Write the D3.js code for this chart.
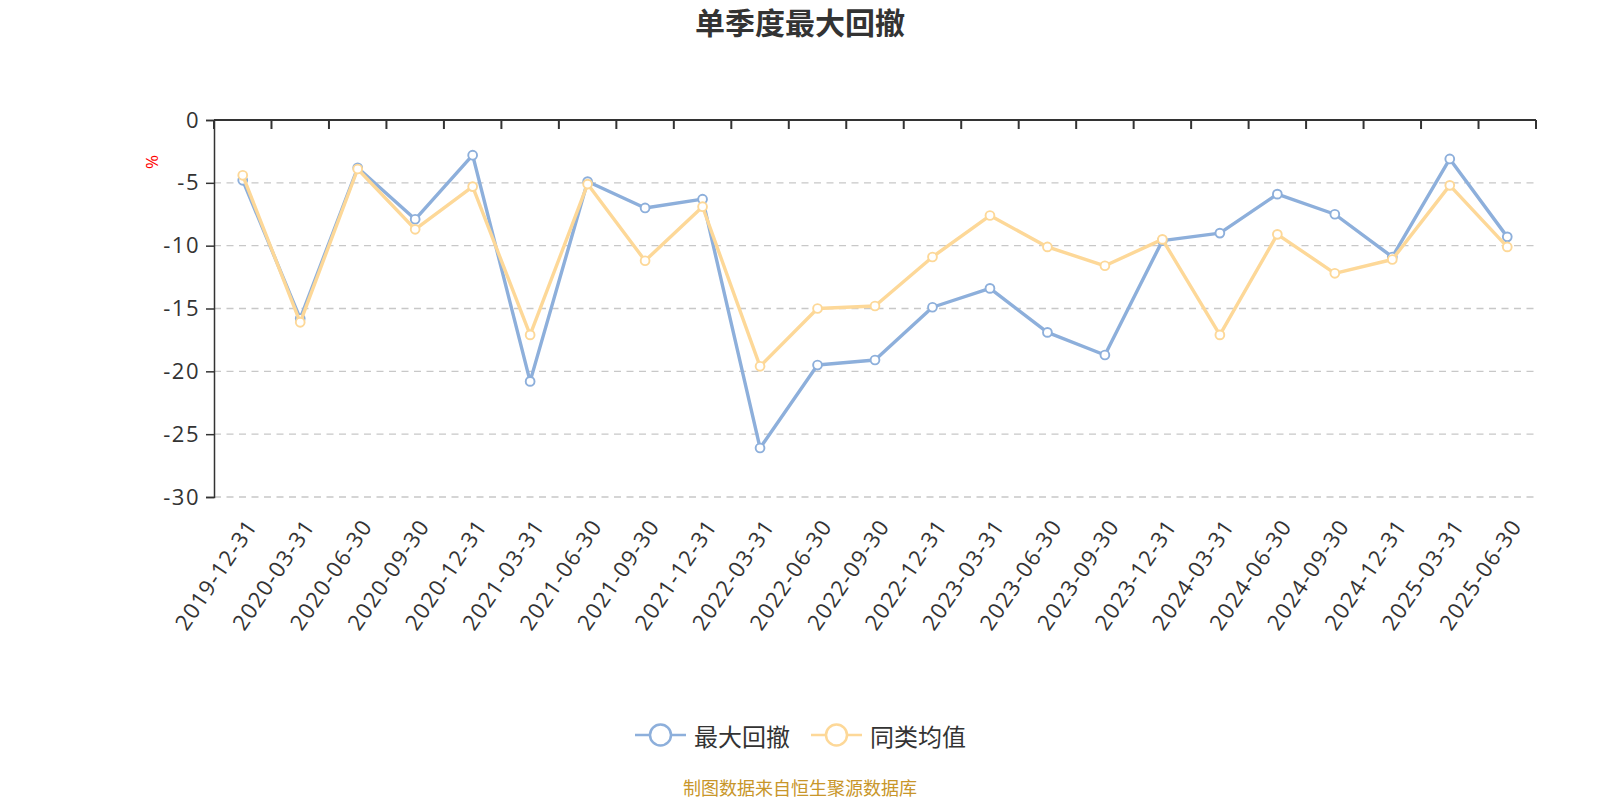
<!DOCTYPE html>
<html><head><meta charset="utf-8">
<script src="https://cdn.jsdelivr.net/npm/d3@7/dist/d3.min.js"></script>
<style>body{margin:0;background:#fff;}svg{display:block;}</style>
</head><body>
<svg id="c" width="1600" height="800"></svg>
<script>
const categories = ["2019-12-31","2020-03-31","2020-06-30","2020-09-30","2020-12-31","2021-03-31","2021-06-30","2021-09-30","2021-12-31","2022-03-31","2022-06-30","2022-09-30","2022-12-31","2023-03-31","2023-06-30","2023-09-30","2023-12-31","2024-03-31","2024-06-30","2024-09-30","2024-12-31","2025-03-31","2025-06-30"];
const maxDrawdown = [-4.8,-15.8,-3.8,-7.9,-2.8,-20.8,-4.9,-7.0,-6.3,-26.1,-19.5,-19.1,-14.9,-13.4,-16.9,-18.7,-9.6,-9.0,-5.9,-7.5,-10.9,-3.1,-9.3];
const peerAvg = [-4.4,-16.1,-3.9,-8.7,-5.3,-17.1,-5.1,-11.2,-6.9,-19.6,-15.0,-14.8,-10.9,-7.6,-10.1,-11.6,-9.5,-17.1,-9.1,-12.2,-11.1,-5.2,-10.1];
const yTicks = [0,-5,-10,-15,-20,-25,-30];
const seriesNames = ["最大回撤","同类均值"];
const colors = ["#8DAFDB","#FDD898"];

const cjk = "'Microsoft YaHei','Noto Sans CJK SC','Noto Sans',sans-serif";
const latin = "'Open Sans','Noto Sans CJK SC',sans-serif";
const svg = d3.select("#c").style("font-family", cjk);
const L = 214, R = 1536, T = 120, B = 497;
const x = d3.scaleBand().domain(categories).range([L, R]);
const y = d3.scaleLinear().domain([-30, 0]).range([B, T]);
const cx = c => x(c) + x.bandwidth() / 2;

// title
svg.append("text").attr("x", 800).attr("y", 34).attr("text-anchor","middle")
  .attr("font-size", 30).attr("font-weight","bold").attr("fill","#333").text("单季度最大回撤");

// grid
svg.append("g").selectAll("line").data(yTicks.filter(d=>d!==0)).join("line")
  .attr("x1", L).attr("x2", R).attr("y1", d=>y(d)).attr("y2", d=>y(d))
  .attr("stroke","#c8c8c8").attr("stroke-width",1.3).attr("stroke-dasharray","7,5.5");

// y axis
const yAxis = d3.axisLeft(y).tickValues(yTicks).tickSize(8).tickPadding(6).tickFormat(d=>String(d));
const gy = svg.append("g").attr("transform",`translate(${L},0)`).call(yAxis);
gy.select(".domain").attr("stroke","#333").attr("stroke-width",1.5);
gy.selectAll(".tick line").attr("stroke","#333").attr("stroke-width",1.5);
gy.selectAll(".tick text").attr("font-size",22).attr("fill","#333").attr("font-family",latin)
  .attr("letter-spacing","1.5px");

// unit
svg.append("text").attr("transform","translate(151,162) rotate(-90)")
  .attr("text-anchor","middle").attr("dominant-baseline","central")
  .attr("font-size",17).attr("fill","red").attr("font-family",latin).text("%");

// x axis line at zero (top)
svg.append("line").attr("x1",L).attr("x2",R).attr("y1",y(0)).attr("y2",y(0))
  .attr("stroke","#333").attr("stroke-width",2);
const bounds = categories.map(c=>x(c)).concat([R]);
svg.append("g").selectAll("line").data(bounds).join("line")
  .attr("x1",d=>d).attr("x2",d=>d).attr("y1",y(0)).attr("y2",y(0)+9)
  .attr("stroke","#333").attr("stroke-width",2);

// x labels at bottom
svg.append("g").selectAll("text").data(categories).join("text")
  .attr("transform", d=>`translate(${cx(d)+8},${B+24}) rotate(-56)`)
  .attr("text-anchor","end").attr("dominant-baseline","central")
  .attr("font-size",22).attr("letter-spacing","1.3px").attr("fill","#333").attr("font-family",latin).text(d=>d);

// lines
const data = [maxDrawdown, peerAvg];
const line = d3.line().x((d,i)=>cx(categories[i])).y(d=>y(d));
[0,1].forEach(si=>{
  svg.append("path").datum(data[si]).attr("d",line).attr("fill","none")
    .attr("stroke",colors[si]).attr("stroke-width",3.4).attr("stroke-linejoin","round");
  svg.append("g").selectAll("circle").data(data[si]).join("circle")
    .attr("cx",(d,i)=>cx(categories[i])).attr("cy",d=>y(d)).attr("r",4.4)
    .attr("fill","#fff").attr("stroke",colors[si]).attr("stroke-width",1.9);
});

// legend
const lg = [{x:635, tx:694},{x:811, tx:870}];
seriesNames.forEach((n,i)=>{
  const g = svg.append("g");
  g.append("line").attr("x1",lg[i].x).attr("x2",lg[i].x+51).attr("y1",735).attr("y2",735)
    .attr("stroke",colors[i]).attr("stroke-width",2.5);
  g.append("circle").attr("cx",lg[i].x+25.5).attr("cy",735).attr("r",10.5)
    .attr("fill","#fff").attr("stroke",colors[i]).attr("stroke-width",2.5);
  g.append("text").attr("x",lg[i].tx).attr("y",735).attr("dominant-baseline","central")
    .attr("font-size",24).attr("fill","#333").text(n);
});

// source
svg.append("text").attr("x",800).attr("y",795).attr("text-anchor","middle")
  .attr("font-size",18).attr("fill","#C8962A").text("制图数据来自恒生聚源数据库");
</script>
</body></html>
